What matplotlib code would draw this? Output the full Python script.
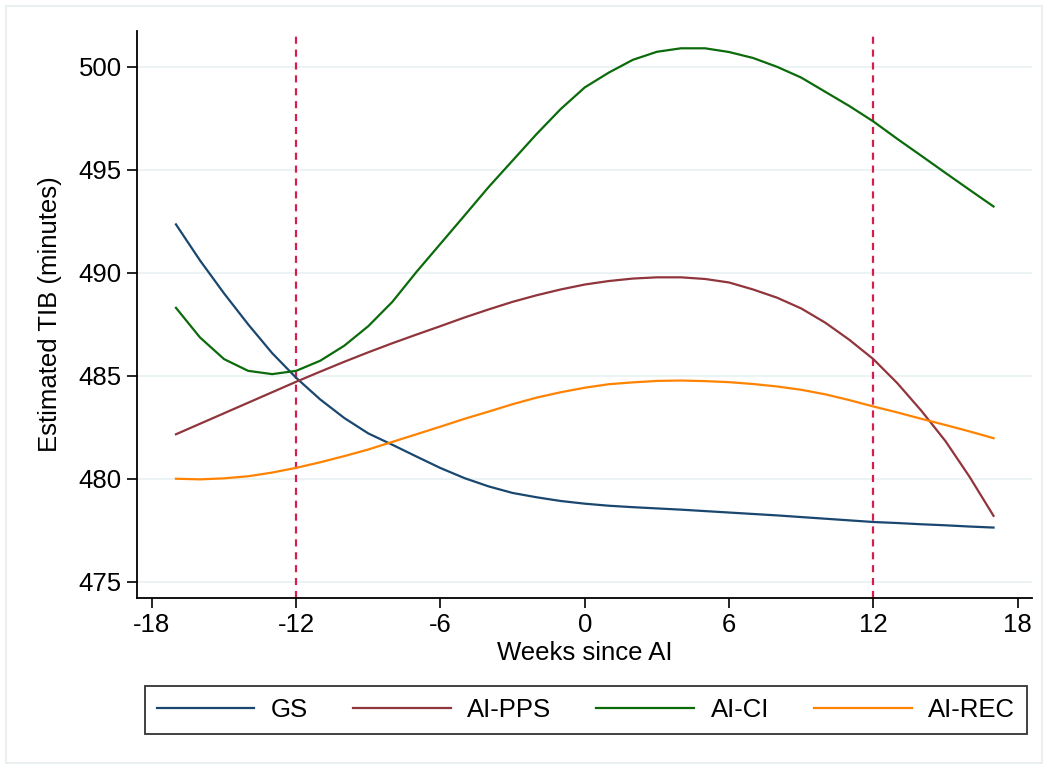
import numpy as np
import matplotlib
matplotlib.use("Agg")
import matplotlib.pyplot as plt
from matplotlib.patches import Rectangle

plt.rcParams['font.family'] = ['Liberation Sans', 'DejaVu Sans']
plt.rcParams['axes.unicode_minus'] = False

## Data (weeks -17 .. 17)
weeks = list(range(-17, 18))

gs = [492.35, 490.6, 489.0, 487.5, 486.1, 484.9, 483.85, 482.95, 482.2, 481.65,
      481.08, 480.52, 480.03, 479.63, 479.31, 479.1, 478.92, 478.79, 478.69, 478.62,
      478.56, 478.5, 478.43, 478.36, 478.29, 478.22, 478.14, 478.06, 477.98, 477.9,
      477.85, 477.79, 477.74, 477.68, 477.63]

ai_pps = [482.16, 482.67, 483.18, 483.69, 484.2, 484.71, 485.2, 485.68, 486.14, 486.58,
          487.0, 487.41, 487.83, 488.22, 488.59, 488.91, 489.19, 489.43, 489.6, 489.72,
          489.78, 489.78, 489.7, 489.53, 489.19, 488.79, 488.27, 487.58, 486.75, 485.81,
          484.64, 483.3, 481.83, 480.1, 478.2]

ai_ci = [488.3, 486.86, 485.81, 485.24, 485.08, 485.24, 485.73, 486.46, 487.41, 488.59,
         490.04, 491.41, 492.78, 494.16, 495.45, 496.74, 497.95, 499.0, 499.72, 500.34,
         500.73, 500.9, 500.9, 500.72, 500.43, 500.0, 499.48, 498.79, 498.1, 497.35,
         496.5, 495.68, 494.85, 494.03, 493.22]

ai_rec = [480.0, 479.97, 480.02, 480.12, 480.3, 480.53, 480.8, 481.1, 481.42, 481.79,
          482.16, 482.53, 482.91, 483.26, 483.62, 483.94, 484.2, 484.42, 484.59, 484.68,
          484.75, 484.77, 484.74, 484.69, 484.6, 484.48, 484.32, 484.1, 483.82, 483.51,
          483.22, 482.91, 482.61, 482.3, 481.97]

series = [('GS', gs, '#1a476f'),
          ('AI-PPS', ai_pps, '#90353b'),
          ('AI-CI', ai_ci, '#0b6b0b'),
          ('AI-REC', ai_rec, '#ff8300')]

vlines = [-12, 12]
xticks = [-18, -12, -6, 0, 6, 12, 18]
yticks = [475, 480, 485, 490, 495, 500]

## Figure
fig = plt.figure(figsize=(10.49, 7.68), dpi=100)
fig.patches.append(Rectangle((6 / 1049, 5 / 768), 1036 / 1049, 757 / 768,
                             transform=fig.transFigure, fill=False,
                             edgecolor='#e6eef0', linewidth=1.2))

ax = fig.add_axes([137 / 1049, 1 - 598 / 768, (1032 - 137) / 1049, (598 - 31) / 768])

for y in yticks:
    ax.axhline(y, color='#eaf2f3', linewidth=1.3, zorder=0)

for v in vlines:
    ax.axvline(v, color='#d41e4e', linestyle=(0, (3.2, 2.6)), linewidth=1.6, zorder=1)

for name, vals, col in series:
    ax.plot(weeks, vals, color=col, linewidth=1.6, label=name, zorder=2)

ax.set_xlim(-18.62, 18.6)
ax.set_ylim(474.21, 501.74)
ax.set_xticks(xticks)
ax.set_yticks(yticks)
ax.tick_params(axis='both', direction='out', length=7, width=1.2, labelsize=18.5,
               pad=4)

for s in ['top', 'right']:
    ax.spines[s].set_visible(False)
for s in ['left', 'bottom']:
    ax.spines[s].set_linewidth(1.3)

ax.set_xlabel('Weeks since AI', fontsize=18.5, labelpad=3)
ax.set_ylabel('Estimated TIB (minutes)', fontsize=18.5, labelpad=12)

leg = fig.legend(loc='center', bbox_to_anchor=(586 / 1049, 1 - 710 / 768), ncol=4,
                 fontsize=18.5, frameon=True, fancybox=False, handlelength=3.8,
                 handletextpad=0.65, columnspacing=1.75, borderpad=0.45,
                 borderaxespad=0)
leg.get_frame().set_edgecolor('black')
leg.get_frame().set_linewidth(1.3)

fig.savefig('out.png', dpi=100, facecolor='white')
